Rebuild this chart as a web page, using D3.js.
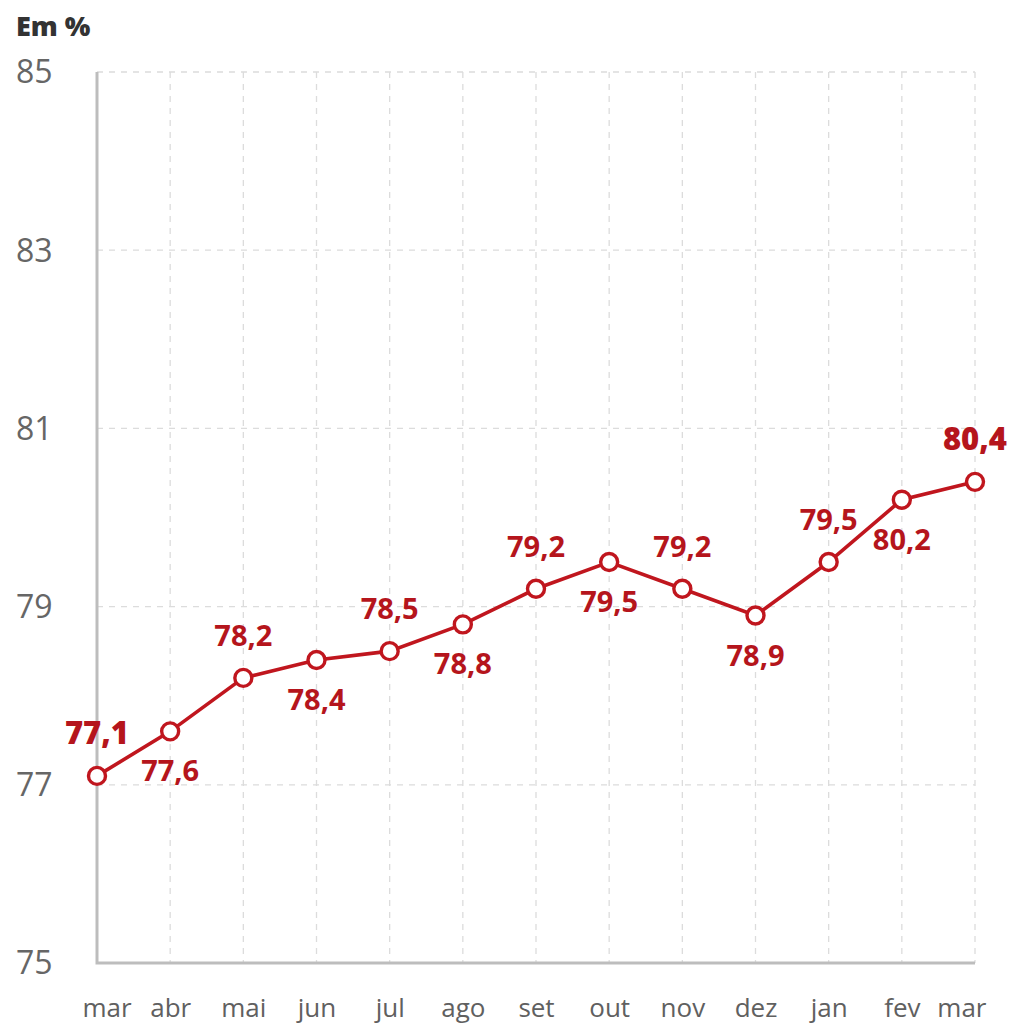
<!DOCTYPE html>
<html>
<head>
<meta charset="utf-8">
<script src="https://cdn.jsdelivr.net/npm/d3@7"></script>
<style>
  html, body { margin: 0; padding: 0; background: #fff; }
  svg { display: block; }
</style>
</head>
<body>
<div id="chart"></div>
<script>
// ---- data ----
const months = ['mar', 'abr', 'mai', 'jun', 'jul', 'ago', 'set', 'out', 'nov', 'dez', 'jan', 'fev', 'mar'];
const values = [77.1, 77.6, 78.2, 78.4, 78.5, 78.8, 79.2, 79.5, 79.2, 78.9, 79.5, 80.2, 80.4];
const labelSide = ['up', 'down', 'up', 'down', 'up', 'down', 'up', 'down', 'up', 'down', 'up', 'down', 'up'];
const yTicks = [75, 77, 79, 81, 83, 85];

const width = 1024, height = 1024;
const margin = {top: 72, right: 49, bottom: 61, left: 97};
const lineColor = '#c0161e';
const labelColor = '#b5151c';
const font = "'Open Sans', 'Noto Sans', sans-serif";

const svg = d3.select('#chart').append('svg')
  .attr('width', width)
  .attr('height', height)
  .style('font-family', font);

const x = d3.scalePoint()
  .domain(d3.range(months.length))
  .range([margin.left, width - margin.right]);

const y = d3.scaleLinear()
  .domain([75, 85])
  .range([height - margin.bottom, margin.top]);

const fmt = v => d3.format('.1f')(v).replace('.', ',');
const last = values.length - 1;

// grid
const grid = svg.append('g').attr('class', 'grid')
  .attr('stroke', '#dcdcdc')
  .attr('stroke-width', 1.3)
  .attr('stroke-dasharray', '6,6');

grid.selectAll('line.h')
  .data(yTicks.filter(t => t !== 75))
  .join('line')
  .attr('class', 'h')
  .attr('x1', margin.left).attr('x2', width - margin.right)
  .attr('y1', d => y(d)).attr('y2', d => y(d));

grid.selectAll('line.v')
  .data(d3.range(1, months.length))
  .join('line')
  .attr('class', 'v')
  .attr('x1', d => x(d)).attr('x2', d => x(d))
  .attr('y1', margin.top).attr('y2', y(75));

// axes
const yAxis = svg.append('g')
  .attr('transform', `translate(${margin.left},0)`)
  .call(d3.axisLeft(y).tickValues(yTicks).tickSize(0).tickPadding(0));
yAxis.select('.domain').remove();
yAxis.selectAll('text')
  .attr('x', 16 - margin.left)
  .attr('text-anchor', 'start')
  .attr('dy', '0.34em')
  .style('font-size', '32px')
  .style('font-family', font)
  .attr('fill', '#666');

const xAxis = svg.append('g')
  .attr('transform', `translate(0,${y(75)})`)
  .call(d3.axisBottom(x).tickFormat(i => months[i]).tickSize(0).tickPadding(0));
xAxis.select('.domain').remove();
xAxis.selectAll('text')
  .attr('y', 54)
  .attr('dy', null)
  .style('font-size', '26px')
  .style('font-family', font)
  .attr('fill', '#606060');
// keep the edge labels inside the frame
xAxis.selectAll('.tick')
  .filter(i => i === 0).select('text')
  .attr('text-anchor', 'start').attr('x', -15);
xAxis.selectAll('.tick')
  .filter(i => i === last).select('text')
  .attr('text-anchor', 'end').attr('x', 11);

// axis lines
svg.append('path')
  .attr('d', `M${margin.left},${margin.top}V${y(75)}H${width - margin.right}`)
  .attr('fill', 'none')
  .attr('stroke', '#bdbdbd')
  .attr('stroke-width', 3);

// title
svg.append('text')
  .attr('x', 16).attr('y', 36)
  .text('Em %')
  .style('font-size', '27px')
  .style('font-weight', 800)
  .attr('fill', '#333');

// line
const line = d3.line()
  .x((d, i) => x(i))
  .y(d => y(d));

svg.append('path')
  .datum(values)
  .attr('d', line)
  .attr('fill', 'none')
  .attr('stroke', lineColor)
  .attr('stroke-width', 3.6);

svg.append('g').selectAll('circle')
  .data(values)
  .join('circle')
  .attr('cx', (d, i) => x(i))
  .attr('cy', d => y(d))
  .attr('r', 8.5)
  .attr('fill', '#fff')
  .attr('stroke', lineColor)
  .attr('stroke-width', 3.4);

// labels
svg.append('g').selectAll('text')
  .data(values)
  .join('text')
  .attr('x', (d, i) => x(i))
  .attr('y', (d, i) => labelSide[i] === 'up' ? y(d) - 32 : y(d) + 50)
  .attr('text-anchor', 'middle')
  .style('font-size', (d, i) => (i === 0 || i === last) ? '31px' : '29px')
  .style('font-weight', (d, i) => (i === 0 || i === last) ? 800 : 700)
  .attr('fill', labelColor)
  .text(d => fmt(d));
</script>
</body>
</html>
